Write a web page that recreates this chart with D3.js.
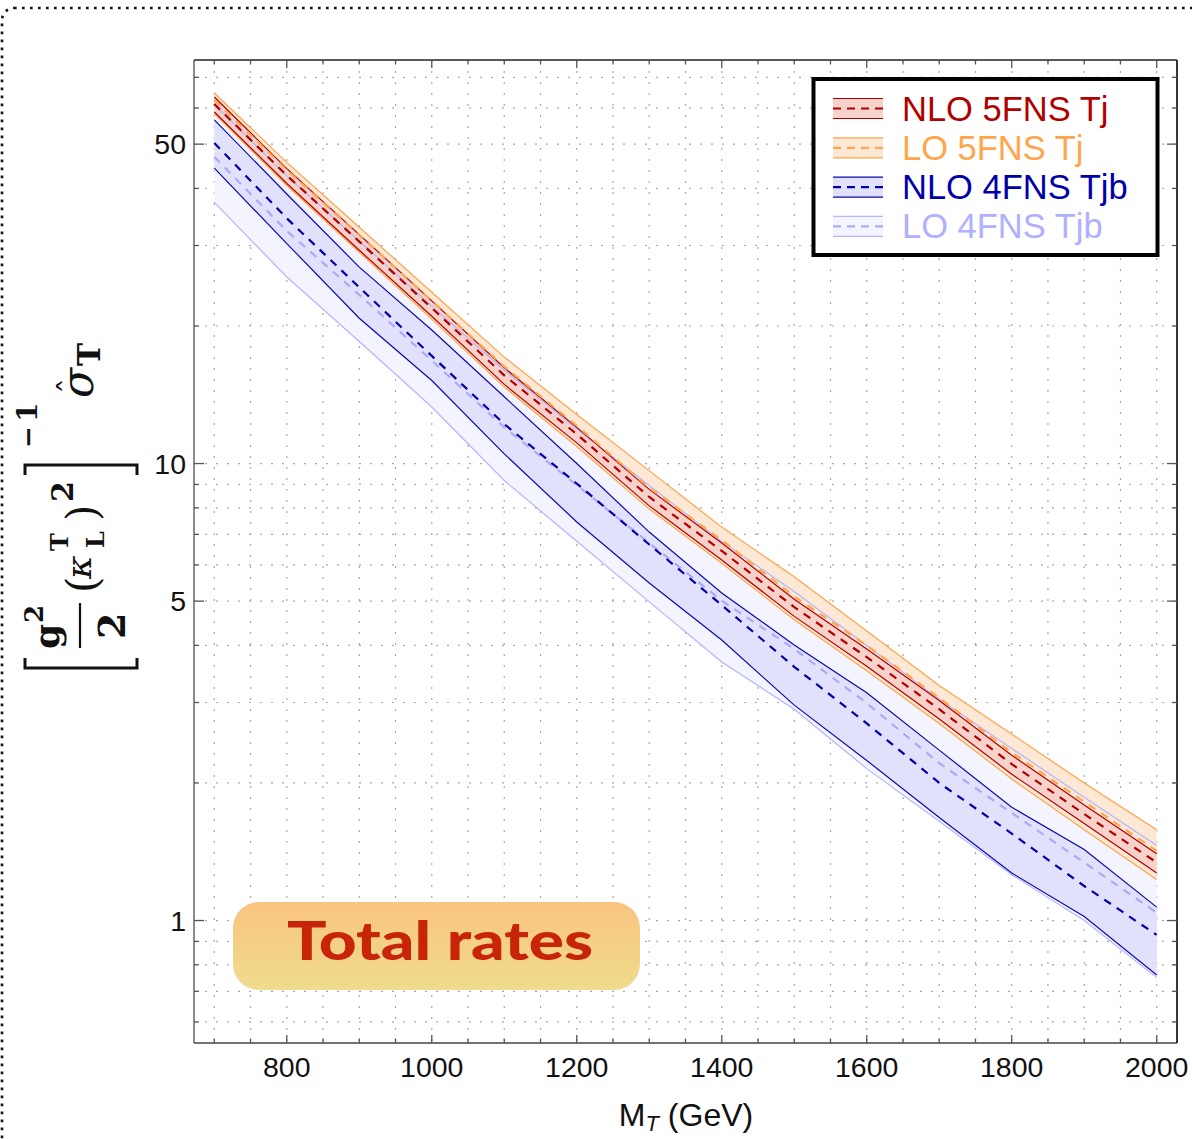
<!DOCTYPE html>
<html>
<head>
<meta charset="utf-8">
<script src="https://cdn.jsdelivr.net/npm/d3@7"></script>
<style>
  html, body { margin: 0; padding: 0; background: #fff; }
  svg { display: block; }
</style>
</head>
<body>
<div id="chart"></div>
<script>
// Heavy top partner mass points (GeV)
const massGeV = [700, 800, 900, 1000, 1100, 1200, 1300, 1400, 1500, 1600, 1700, 1800, 1900, 2000];

// NLO 5FNS Tj: central value and scale-variation envelope
const nlo5Central = [61.2, 42.7, 30.6, 21.9, 15.6, 11.6, 8.45, 6.44, 4.85, 3.77, 2.90, 2.20, 1.71, 1.34];
const nlo5Up      = [63.4, 44.2, 31.7, 22.7, 16.2, 12.0, 8.78, 6.70, 5.05, 3.93, 3.03, 2.30, 1.79, 1.40];
const nlo5Down    = [58.8, 41.0, 29.3, 21.0, 14.9, 11.1, 8.08, 6.15, 4.63, 3.60, 2.76, 2.09, 1.63, 1.27];

// LO 5FNS Tj
const lo5Central = [62.5, 43.9, 31.6, 22.7, 16.3, 12.1, 8.85, 6.80, 5.12, 4.00, 3.07, 2.33, 1.82, 1.42];
const lo5Up      = [64.7, 45.6, 32.9, 23.7, 17.1, 12.8, 9.65, 7.26, 5.65, 4.30, 3.27, 2.56, 2.00, 1.58];
const lo5Down    = [58.3, 40.6, 29.0, 20.7, 14.7, 10.9, 7.95, 6.05, 4.55, 3.52, 2.70, 2.04, 1.58, 1.23];

// NLO 4FNS Tjb
const nlo4Central = [50.3, 34.4, 24.3, 17.2, 12.2, 9.04, 6.65, 4.90, 3.59, 2.70, 2.00, 1.55, 1.19, 0.93];
const nlo4Up      = [56.5, 38.9, 26.9, 19.6, 14.0, 10.0, 7.08, 5.21, 4.01, 3.15, 2.36, 1.77, 1.43, 1.07];
const nlo4Down    = [44.3, 30.3, 20.8, 15.2, 10.5, 7.45, 5.48, 4.11, 2.96, 2.24, 1.68, 1.27, 1.02, 0.76];

// LO 4FNS Tjb
const lo4Central = [46.9, 32.3, 23.4, 16.8, 12.0, 8.97, 6.70, 5.01, 3.93, 2.99, 2.21, 1.72, 1.34, 1.04];
const lo4Up      = [61.0, 42.6, 30.7, 22.1, 16.0, 11.9, 8.95, 6.75, 5.25, 4.00, 3.05, 2.38, 1.86, 1.46];
const lo4Down    = [37.3, 25.6, 18.5, 13.3, 9.18, 6.76, 4.98, 3.68, 2.90, 2.15, 1.65, 1.26, 1.00, 0.75];

const legendLabels = ["NLO 5FNS Tj", "LO 5FNS Tj", "NLO 4FNS Tjb", "LO 4FNS Tjb"];

const xMajorTicks = [800, 1000, 1200, 1400, 1600, 1800, 2000];
const xMinorTicks = [700, 750, 850, 900, 950, 1050, 1100, 1150, 1250, 1300, 1350, 1450, 1500, 1550,
                     1650, 1700, 1750, 1850, 1900, 1950];
const yMajorTicks = [1, 5, 10, 50];
const yMinorTicks = [0.6, 0.7, 0.8, 0.9, 2, 3, 4, 6, 7, 8, 9, 20, 30, 40, 60, 70];

const W = 1192, H = 1139;
const plot = { left: 194, right: 1177, top: 60, bottom: 1043 };

const svg = d3.select("#chart").append("svg")
  .attr("width", W).attr("height", H)
  .attr("font-family", "'Liberation Sans', Arial, sans-serif");

// dotted outer frame
svg.append("rect")
  .attr("x", 2).attr("y", 8).attr("width", W + 40).attr("height", H + 40)
  .attr("rx", 12)
  .attr("fill", "none").attr("stroke", "#111").attr("stroke-width", 2.6)
  .attr("stroke-dasharray", "2.6,5.4");

const x = d3.scaleLinear().domain([672, 2028]).range([plot.left, plot.right]);
const y = d3.scaleLog().domain([0.5395, 76.4]).range([plot.bottom, plot.top]);

// grid
const grid = svg.append("g").attr("stroke", "#a8a8a8").attr("stroke-width", 1.2)
  .attr("stroke-dasharray", "2,9");
xMajorTicks.concat(xMinorTicks).forEach(t => {
  grid.append("line").attr("x1", x(t)).attr("x2", x(t))
    .attr("y1", plot.top).attr("y2", plot.bottom);
});
yMajorTicks.concat(yMinorTicks).forEach(t => {
  grid.append("line").attr("y1", y(t)).attr("y2", y(t))
    .attr("x1", plot.left).attr("x2", plot.right);
});

// clip region for curves
svg.append("clipPath").attr("id", "plotClip").append("rect")
  .attr("x", plot.left).attr("y", plot.top)
  .attr("width", plot.right - plot.left).attr("height", plot.bottom - plot.top);

const series = [
  { name: legendLabels[3], c: lo4Central, up: lo4Up, down: lo4Down,
    fill: "#f4f4ff", edge: "#b4b4ff", dash: "#aaaaf6", text: "#b0b0ff" },
  { name: legendLabels[2], c: nlo4Central, up: nlo4Up, down: nlo4Down,
    fill: "#e1e1fb", edge: "#0a0ab0", dash: "#0000aa", text: "#0000aa" },
  { name: legendLabels[1], c: lo5Central, up: lo5Up, down: lo5Down,
    fill: "#fde8d6", edge: "#ffa347", dash: "#ffa64d", text: "#ffa64d" },
  { name: legendLabels[0], c: nlo5Central, up: nlo5Up, down: nlo5Down,
    fill: "#f6d2cb", edge: "#b00000", dash: "#b00000", text: "#b00000" }
];

const rows = s => massGeV.map((m, i) => ({ m, c: s.c[i], up: s.up[i], down: s.down[i] }));
const area = d3.area().x(d => x(d.m)).y0(d => y(d.down)).y1(d => y(d.up));
const lineOf = key => d3.line().x(d => x(d.m)).y(d => y(d[key]));

const curves = svg.append("g").attr("clip-path", "url(#plotClip)");
series.forEach(s => {
  curves.append("path").datum(rows(s)).attr("d", area).attr("fill", s.fill);
});
series.forEach(s => {
  ["up", "down"].forEach(k => {
    curves.append("path").datum(rows(s)).attr("d", lineOf(k))
      .attr("fill", "none").attr("stroke", s.edge).attr("stroke-width", 1.2);
  });
});
series.forEach(s => {
  curves.append("path").datum(rows(s)).attr("d", lineOf("c"))
    .attr("fill", "none").attr("stroke", s.dash).attr("stroke-width", 2.2)
    .attr("stroke-dasharray", "8,7");
});

// frame and ticks
const frame = svg.append("g");
frame.append("line").attr("x1", plot.left).attr("x2", plot.left).attr("y1", plot.top).attr("y2", plot.bottom)
  .attr("stroke", "#808080").attr("stroke-width", 1.8);
frame.append("line").attr("x1", plot.left).attr("x2", plot.right).attr("y1", plot.bottom).attr("y2", plot.bottom)
  .attr("stroke", "#444").attr("stroke-width", 1.5);
frame.append("line").attr("x1", plot.left).attr("x2", plot.right).attr("y1", plot.top).attr("y2", plot.top)
  .attr("stroke", "#222").attr("stroke-width", 1.5);
frame.append("line").attr("x1", plot.right).attr("x2", plot.right).attr("y1", plot.top).attr("y2", plot.bottom)
  .attr("stroke", "#222").attr("stroke-width", 1.8);

const tickG = frame.append("g").attr("stroke", "#555").attr("stroke-width", 1.3);
xMajorTicks.forEach(t => {
  tickG.append("line").attr("x1", x(t)).attr("x2", x(t)).attr("y1", plot.bottom).attr("y2", plot.bottom - 8);
  tickG.append("line").attr("x1", x(t)).attr("x2", x(t)).attr("y1", plot.top).attr("y2", plot.top + 8);
});
xMinorTicks.forEach(t => {
  tickG.append("line").attr("x1", x(t)).attr("x2", x(t)).attr("y1", plot.bottom).attr("y2", plot.bottom - 4.5);
  tickG.append("line").attr("x1", x(t)).attr("x2", x(t)).attr("y1", plot.top).attr("y2", plot.top + 4.5);
});
yMajorTicks.forEach(t => {
  tickG.append("line").attr("y1", y(t)).attr("y2", y(t)).attr("x1", plot.left).attr("x2", plot.left + 10);
  tickG.append("line").attr("y1", y(t)).attr("y2", y(t)).attr("x1", plot.right).attr("x2", plot.right - 10);
});
yMinorTicks.forEach(t => {
  tickG.append("line").attr("y1", y(t)).attr("y2", y(t)).attr("x1", plot.left).attr("x2", plot.left + 5);
  tickG.append("line").attr("y1", y(t)).attr("y2", y(t)).attr("x1", plot.right).attr("x2", plot.right - 5);
});

// tick labels
const fmt = d3.format("d");
svg.append("g").selectAll("text").data(xMajorTicks).join("text")
  .attr("x", d => x(d)).attr("y", 1077).attr("text-anchor", "middle")
  .attr("font-size", 28.5).attr("fill", "#111").text(d => fmt(d));
svg.append("g").selectAll("text").data(yMajorTicks).join("text")
  .attr("x", 186).attr("y", d => y(d) + 10).attr("text-anchor", "end")
  .attr("font-size", 28.5).attr("fill", "#111").text(d => fmt(d));

// x-axis title
const xt = svg.append("text").attr("x", 686).attr("y", 1126).attr("text-anchor", "middle")
  .attr("font-size", 32).attr("fill", "#111");
xt.append("tspan").text("M");
xt.append("tspan").attr("font-style", "italic").attr("font-size", 22).attr("dy", 5).text("T");
xt.append("tspan").attr("dy", -5).text(" (GeV)");

// y-axis title (rotated formula)
const serif = "'DejaVu Serif', 'Liberation Serif', serif";
const yl = svg.append("g").attr("transform", "translate(0,670) rotate(-90)")
  .attr("font-family", serif).attr("fill", "#111");
const glyph = (txt, u, v, size, opts = {}) => yl.append("text")
  .attr("x", u).attr("y", v).attr("font-size", size)
  .attr("font-weight", opts.bold ? "bold" : "normal")
  .attr("font-style", opts.italic ? "italic" : "normal")
  .text(txt);
glyph("g", 21, 59, 36, { bold: true });
glyph("2", 47, 43, 26, { bold: true });
glyph("2", 31, 125, 38, { bold: true });
glyph("(", 77, 97, 42);
glyph("κ", 91, 91, 36, { italic: true });
glyph("T", 119, 68, 24, { bold: true });
glyph("L", 122, 104, 24, { bold: true });
glyph(")", 149, 97, 42);
glyph("2", 168, 73, 30, { bold: true });
glyph("−", 222, 37, 26, { bold: true });
glyph("1", 248, 37, 28, { bold: true });
glyph("σ", 272, 93, 44, { italic: true });
glyph("ˆ", 276, 82, 32);
glyph("T", 304, 100, 31, { bold: true });
// fraction bar and brackets
svg.append("line").attr("x1", 80).attr("x2", 80).attr("y1", 603).attr("y2", 648)
  .attr("stroke", "#111").attr("stroke-width", 2.2);
svg.append("path").attr("d", "M25,658 L25,668 L137,668 L137,658")
  .attr("fill", "none").attr("stroke", "#111").attr("stroke-width", 3);
svg.append("path").attr("d", "M25,475 L25,465 L137,465 L137,475")
  .attr("fill", "none").attr("stroke", "#111").attr("stroke-width", 3);

// legend
const legendOrder = [series[3], series[2], series[1], series[0]];
const leg = svg.append("g");
leg.append("rect").attr("x", 813.5).attr("y", 79).attr("width", 344).attr("height", 176)
  .attr("fill", "#fff").attr("stroke", "#000").attr("stroke-width", 4);
legendOrder.forEach((s, i) => {
  const cy = 108.5 + i * 39.3;
  const g = leg.append("g");
  g.append("rect").attr("x", 833).attr("y", cy - 10).attr("width", 50).attr("height", 20).attr("fill", s.fill);
  g.append("line").attr("x1", 833).attr("x2", 883).attr("y1", cy - 10).attr("y2", cy - 10)
    .attr("stroke", s.edge).attr("stroke-width", 1.2);
  g.append("line").attr("x1", 833).attr("x2", 883).attr("y1", cy + 10).attr("y2", cy + 10)
    .attr("stroke", s.edge).attr("stroke-width", 1.2);
  g.append("line").attr("x1", 833).attr("x2", 883).attr("y1", cy).attr("y2", cy)
    .attr("stroke", s.dash).attr("stroke-width", 2.2).attr("stroke-dasharray", "8,6");
  g.append("text").attr("x", 902).attr("y", cy + 12).attr("font-size", 34.5)
    .attr("fill", s.text).text(s.name);
});

// "Total rates" badge
const defs = svg.append("defs");
const grad = defs.append("linearGradient").attr("id", "badgeGrad").attr("x1", 0).attr("x2", 0).attr("y1", 0).attr("y2", 1);
grad.append("stop").attr("offset", "0%").attr("stop-color", "#f9c47f");
grad.append("stop").attr("offset", "100%").attr("stop-color", "#efdc8e");
svg.append("rect").attr("x", 233).attr("y", 902).attr("width", 407).attr("height", 88).attr("rx", 26)
  .attr("fill", "url(#badgeGrad)");
svg.append("text").attr("x", 440).attr("y", 960).attr("text-anchor", "middle")
  .attr("font-family", "Lato, 'Open Sans', sans-serif").attr("font-weight", 900)
  .attr("font-size", 53).attr("fill", "#c8240a")
  .attr("textLength", 306).attr("lengthAdjust", "spacingAndGlyphs")
  .text("Total rates");
</script>
</body>
</html>
